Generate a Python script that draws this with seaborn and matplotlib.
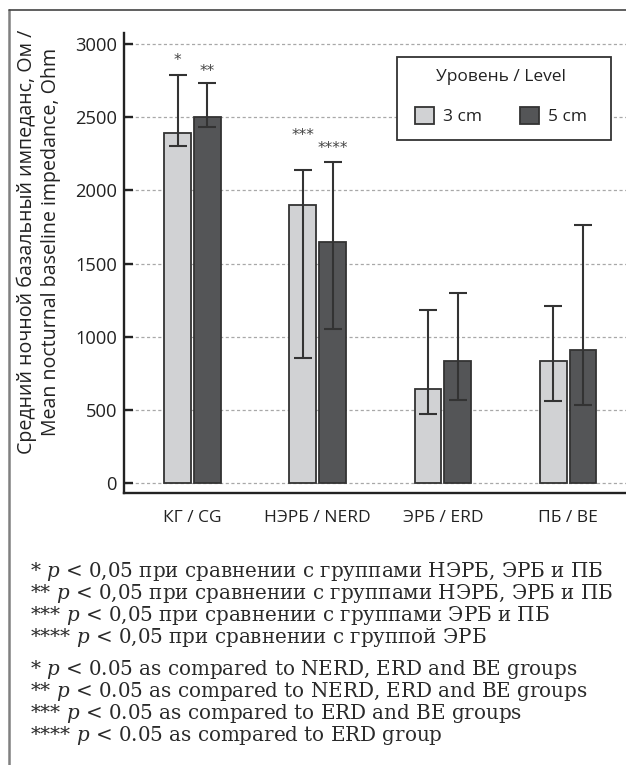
import matplotlib
matplotlib.use("Agg")
import matplotlib.pyplot as plt
from matplotlib.patches import Patch
from matplotlib.lines import Line2D
from matplotlib.path import Path
import numpy as np
import pandas as pd
import seaborn as sns

# ---- data ----
groups = ["КГ / CG", "НЭРБ / NERD", "ЭРБ / ERD", "ПБ / BE"]
levels = ["3 cm", "5 cm"]
mean_3cm = [2395, 1900, 645, 835]
mean_5cm = [2500, 1650, 835, 910]
err_low_3cm = [2300, 855, 470, 560]
err_high_3cm = [2790, 2140, 1180, 1210]
err_low_5cm = [2430, 1050, 570, 530]
err_high_5cm = [2730, 2195, 1300, 1760]
marks_3cm = ["*", "***", "", ""]
marks_5cm = ["**", "****", "", ""]
y_ticks = [0, 500, 1000, 1500, 2000, 2500, 3000]

y_label = ("Средний ночной базальный импеданс, Ом /\n"
           "Mean nocturnal baseline impedance, Ohm")
legend_title = "Уровень / Level"
notes_ru = [
    "* $p$ < 0,05 при сравнении с группами НЭРБ, ЭРБ и ПБ",
    "** $p$ < 0,05 при сравнении с группами НЭРБ, ЭРБ и ПБ",
    "*** $p$ < 0,05 при сравнении с группами ЭРБ и ПБ",
    "**** $p$ < 0,05 при сравнении с группой ЭРБ",
]
notes_en = [
    "* $p$ < 0.05 as compared to NERD, ERD and BE groups",
    "** $p$ < 0.05 as compared to NERD, ERD and BE groups",
    "*** $p$ < 0.05 as compared to ERD and BE groups",
    "**** $p$ < 0.05 as compared to ERD group",
]

df = pd.DataFrame({
    "group": groups * 2,
    "level": [levels[0]] * len(groups) + [levels[1]] * len(groups),
    "value": mean_3cm + mean_5cm,
})

# ---- style ----
sns.set_style("white")
plt.rcParams["font.family"] = ["Open Sans", "DejaVu Sans"]
plt.rcParams["mathtext.fontset"] = "custom"
plt.rcParams["mathtext.rm"] = "DejaVu Serif"
plt.rcParams["mathtext.it"] = "DejaVu Serif:italic"

W, H = 626, 765
fig = plt.figure(figsize=(W / 100, H / 100), dpi=100)
fig.patch.set_facecolor("white")
ax = fig.add_axes([124 / W, 1 - 493 / H, (W - 124) / W, 460 / H])

light, dark = "#d1d2d4", "#545557"
edge = "#333333"
palette = {levels[0]: light, levels[1]: dark}

sns.barplot(data=df, x="group", y="value", hue="level", order=groups,
            hue_order=levels, palette=palette, width=0.476, gap=0.1,
            errorbar=None, edgecolor=edge, linewidth=1.3, saturation=1,
            legend=False, ax=ax)

# asymmetric error bars and significance marks on top of each bar
series = [
    (mean_3cm, err_low_3cm, err_high_3cm, marks_3cm, [14, 34, 0, 0]),
    (mean_5cm, err_low_5cm, err_high_5cm, marks_5cm, [12, 13, 0, 0]),
]
for container, (means, lows, highs, marks, lift) in zip(ax.containers, series):
    xs = [bar.get_x() + bar.get_width() / 2 for bar in container]
    means = np.asarray(means, float)
    yerr = [means - np.asarray(lows), np.asarray(highs) - means]
    ax.errorbar(xs, means, yerr=yerr, fmt="none", ecolor=edge,
                elinewidth=1.5, capsize=6.5, capthick=1.5, zorder=4)
    for x, top, mark, dy in zip(xs, highs, marks, lift):
        if mark:
            ax.annotate(mark, (x, top), xytext=(0, dy * 0.72),
                        textcoords="offset points", ha="center", va="center",
                        fontsize=11, color="#444444",
                        family=["DejaVu Sans"])

# ---- axes ----
ax.set_xlim(-0.547, 3.462)
ax.set_ylim(-68, 3075)
ax.set_yticks(y_ticks)
ax.set_yticklabels([str(t) for t in y_ticks])
ax.set_xlabel("")
ax.set_ylabel("")
ax.set_axisbelow(True)
ax.yaxis.grid(True, linestyle=(0, (2.5, 2)), color="#a8a8a8", linewidth=0.9)
ax.xaxis.grid(False)
for side in ("top", "right"):
    ax.spines[side].set_visible(False)
for side in ("left", "bottom"):
    ax.spines[side].set_color("#222222")
    ax.spines[side].set_linewidth(1.7)
ax.tick_params(axis="y", direction="in", length=6.5, width=1.7,
               color="#222222", pad=5, labelsize=13.2, labelcolor="#222222")
ax.tick_params(axis="x", length=0, pad=12, labelsize=12.5,
               labelcolor="#222222")
ax.tick_params(axis="y", left=True)

fig.text(39 / W, 1 - 242 / H, y_label, rotation=90, ha="center",
         va="center", multialignment="center", fontsize=14.1,
         color="#222222", linespacing=1.3)


# ---- legend ----
def legend_box(x0, y0, width, height, mutation_size):
    """Square frame with extra room at the sides and at the bottom."""
    pl = 0.35 * mutation_size
    pr = 0.7 * mutation_size
    pb = 0.15 * mutation_size
    x1, y1 = x0 + width + pr, y0 + height
    x0, y0 = x0 - pl, y0 - pb
    return Path([(x0, y0), (x1, y0), (x1, y1), (x0, y1), (x0, y0)],
                closed=True)


handles = [Patch(facecolor=palette[l], edgecolor=edge, linewidth=1.3)
           for l in levels]
leg = ax.legend(handles, levels, title=legend_title, ncol=2,
                loc="upper right", bbox_to_anchor=(599 / W, 1 - 57 / H),
                bbox_transform=fig.transFigure, fontsize=12.5,
                title_fontsize=12.5, frameon=True, fancybox=False,
                framealpha=1, edgecolor="#333333", borderpad=0.7,
                labelspacing=1.26, handlelength=1.1, handleheight=1.1,
                handletextpad=0.5, columnspacing=2.2, borderaxespad=0)
leg.get_frame().set_boxstyle(legend_box)
leg.get_frame().set_linewidth(1.3)
leg.get_title().set_color("#222222")
for t in leg.get_texts():
    t.set_color("#222222")

# ---- footnotes ----
note_font = dict(family=["DejaVu Serif"], fontsize=14.3,
                 color="#2a2a2a", va="baseline", ha="left")
ru_base = [577, 599, 621, 643]
en_base = [675, 697, 719, 741]
for line, yb in zip(notes_ru, ru_base):
    fig.text(30 / W, 1 - yb / H, line, **note_font)
for line, yb in zip(notes_en, en_base):
    fig.text(30 / W, 1 - yb / H, line, **note_font)

# page frame
fig.add_artist(Line2D([9 / W, 9 / W], [0, 1 - 10 / H],
                      transform=fig.transFigure, color="#808080", lw=1.8))
fig.add_artist(Line2D([9 / W, 1], [1 - 10 / H, 1 - 10 / H],
                      transform=fig.transFigure, color="#444444", lw=1.2))

fig.savefig("out.png", dpi=100, facecolor="white")
